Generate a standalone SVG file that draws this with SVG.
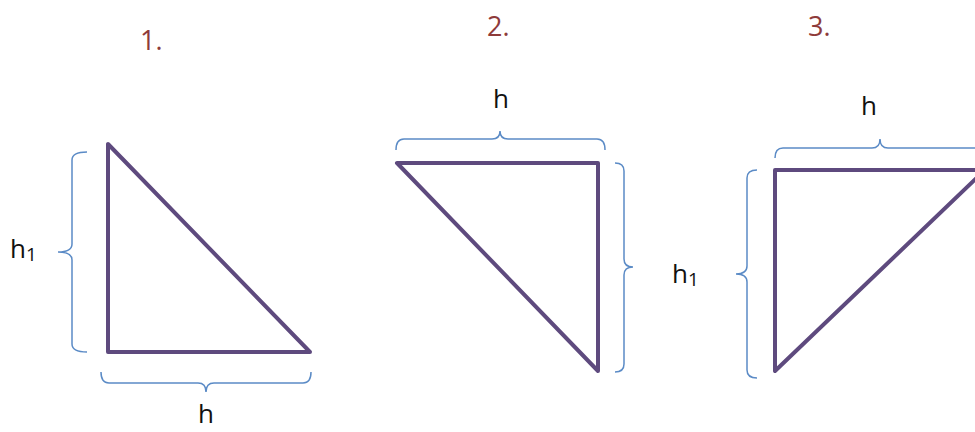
<svg xmlns="http://www.w3.org/2000/svg" width="975" height="432" viewBox="0 0 975 432">
<style>
.tri{fill:none;stroke:#5E4A7E;stroke-width:4;stroke-linejoin:round;stroke-linecap:round}
.br{fill:none;stroke:#5B8BC6;stroke-width:1.5}
.lbl{font-family:"Open Sans","Liberation Sans",sans-serif;font-size:26px;fill:#111}
.sub{font-size:19px}
.num{font-family:"Open Sans","Liberation Sans",sans-serif;font-size:27px;fill:#8E3B3A}
</style>
<rect width="975" height="432" fill="#fff"/>
<g id="fig1">
<text class="num" x="140" y="50">1.</text>
<polygon class="tri" points="108,144 108,352 310,352"/>
<text class="lbl" x="10" y="258">h<tspan class="sub" dy="3">1</tspan></text>
<text class="lbl" x="206" y="423" text-anchor="middle">h</text>
</g>
<g id="fig2">
<text class="num" x="487" y="36">2.</text>
<polygon class="tri" points="397,163 598,163 598,371"/>
<text class="lbl" x="501" y="108" text-anchor="middle">h</text>
</g>
<g id="fig3">
<text class="num" x="808" y="36">3.</text>
<polygon class="tri" points="775,170 985,170 775,371"/>
<text class="lbl" x="672" y="283">h<tspan class="sub" dy="3">1</tspan></text>
<text class="lbl" x="869" y="115" text-anchor="middle">h</text>
</g>
<g id="connectors">
<path class="br" d="M87,152 Q72,152 72,160 L72,244 Q72,252 58,252 Q72,252 72,260 L72,344 Q72,352 87,352"/>
<path class="br" d="M101,372 Q101,383 109,383 L198,383 Q206,383 206,392 Q206,383 214,383 L303,383 Q311,383 311,372"/>
<path class="br" d="M396,150 Q396,139 404,139 L492,139 Q500,139 500,131 Q500,139 508,139 L597,139 Q605,139 605,150"/>
<path class="br" d="M615,163 Q624,163 624,171 L624,259 Q624,267 633,267 Q624,267 624,275 L624,364 Q624,372 615,372"/>
<path class="br" d="M775,158 Q775,148 783,148 L872,148 Q880,148 880,139 Q880,148 888,148 L985,148"/>
<path class="br" d="M757,170 Q747,170 747,178 L747,266 Q747,274 736,274 Q747,274 747,282 L747,370 Q747,378 757,378"/>
</g>
</svg>
